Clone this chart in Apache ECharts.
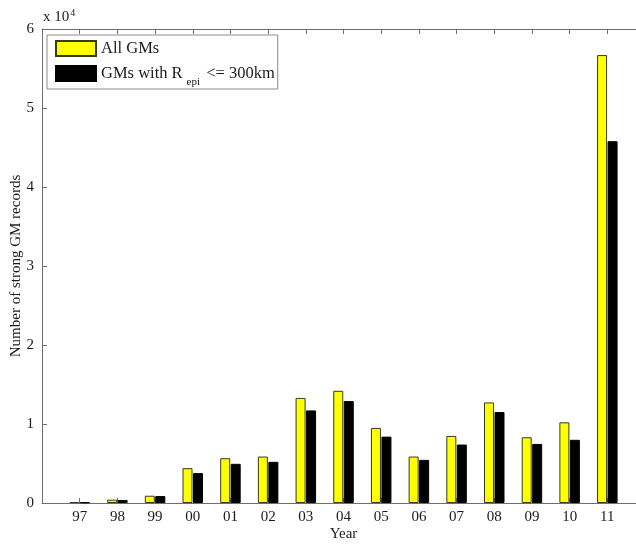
<!DOCTYPE html>
<html>
<head>
<meta charset="utf-8">
<script src="https://cdn.jsdelivr.net/npm/echarts@6/dist/echarts.min.js"></script>
<style>
  html, body { margin: 0; padding: 0; background: #ffffff; }
  #chart { width: 636px; height: 547px; }
</style>
</head>
<body>
<div id="chart"></div>
<script>
// Strong ground-motion records per year
const years = ['97', '98', '99', '00', '01', '02', '03', '04', '05', '06', '07', '08', '09', '10', '11'];
const allGMs = [120, 420, 920, 4410, 5670, 5880, 13300, 14200, 9500, 5880, 8490, 12730, 8320, 10210, 56700];
const nearGMs = [80, 380, 880, 3780, 4960, 5210, 11720, 12900, 8400, 5460, 7400, 11510, 7480, 8000, 45800];
const yTickLabels = ['0', '1', '2', '3', '4', '5', '6'];
const yScale = 10000;

const serif = '"Liberation Serif", "DejaVu Serif", serif';
const axisGray = '#6e6e6e';
const textDark = '#1a1a1a';

const chart = echarts.init(document.getElementById('chart'), null, { renderer: 'canvas' });

const xTickLabel = v => (v >= 1 && v <= years.length) ? years[v - 1] : '';

chart.setOption({
  animation: false,
  backgroundColor: '#ffffff',
  textStyle: { fontFamily: serif, color: textDark },
  // the axes box runs past the right edge of the canvas
  grid: { left: 42, top: 29, right: -9, bottom: 44, outerBoundsMode: 'none', containLabel: false },
  legend: {
    left: 47, top: 35,
    orient: 'vertical',
    icon: 'rect',
    itemWidth: 40, itemHeight: 15, itemGap: 8,
    padding: [5, 3, 1, 8],
    borderColor: '#8a8a8a', borderWidth: 1, backgroundColor: '#ffffff',
    selectedMode: false,
    textStyle: {
      fontFamily: serif, fontSize: 16.5, color: textDark,
      rich: {
        sub: { fontFamily: serif, fontSize: 11, color: textDark, padding: [9, 2, -9, 4] }
      }
    },
    formatter: name => name === 'near' ? 'GMs with R{sub|epi} <= 300km' : 'All GMs',
    data: ['all', 'near']
  },
  xAxis: [{
    type: 'value', min: 0, max: years.length + 1, interval: 1,
    name: 'Year', nameLocation: 'middle', nameGap: 24, nameMoveOverlap: false,
    nameTextStyle: { fontFamily: serif, fontSize: 15, color: textDark },
    axisLine: { show: true, lineStyle: { color: axisGray, width: 1 } },
    axisTick: { show: true, inside: true, length: 5, lineStyle: { color: axisGray } },
    axisLabel: { fontFamily: serif, fontSize: 15, color: textDark, margin: 7, formatter: xTickLabel },
    splitLine: { show: false }
  }, {
    type: 'value', position: 'top', min: 0, max: years.length + 1, interval: 1,
    axisLine: { show: true, lineStyle: { color: axisGray, width: 1 } },
    axisTick: { show: true, inside: true, length: 5, lineStyle: { color: axisGray } },
    axisLabel: { show: false },
    splitLine: { show: false }
  }],
  yAxis: [{
    type: 'value', min: 0, max: 6 * yScale, interval: yScale,
    name: 'Number of strong GM records', nameLocation: 'middle', nameGap: 18, nameMoveOverlap: false,
    nameTextStyle: { fontFamily: serif, fontSize: 15, color: textDark },
    axisLine: { show: true, lineStyle: { color: axisGray, width: 1 } },
    axisTick: { show: true, inside: true, length: 5, lineStyle: { color: axisGray } },
    axisLabel: { fontFamily: serif, fontSize: 15, color: textDark, margin: 8,
                 formatter: v => yTickLabels[Math.round(v / yScale)] },
    splitLine: { show: false }
  }],
  graphic: [{
    type: 'text', left: 43, top: 8,
    style: {
      text: 'x 10{sup|4}',
      font: '15px ' + serif, fill: textDark,
      rich: { sup: { fontFamily: serif, fontSize: 10, fill: textDark, verticalAlign: 'top', padding: [0, 0, 8, 1] } }
    }
  }],
  series: [{
    name: 'all', type: 'bar', xAxisIndex: 0,
    barWidth: 10, barGap: '5%',
    itemStyle: { color: '#ffff00', borderColor: '#3a3a1a', borderWidth: 1 },
    data: allGMs.map((v, i) => [i + 1, v])
  }, {
    name: 'near', type: 'bar', xAxisIndex: 0,
    barWidth: 10, barGap: '5%',
    itemStyle: { color: '#000000', borderColor: '#000000', borderWidth: 1 },
    data: nearGMs.map((v, i) => [i + 1, v])
  }]
});
</script>
</body>
</html>
